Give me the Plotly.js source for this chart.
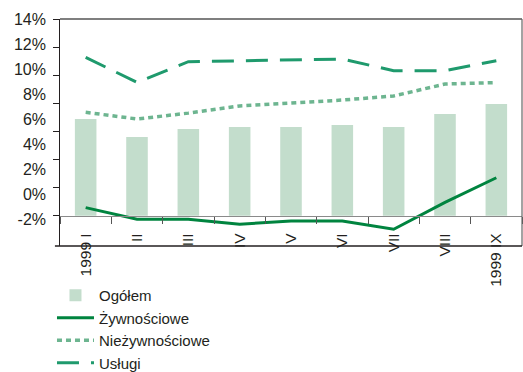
<!DOCTYPE html>
<html>
<head>
<meta charset="utf-8">
<script src="https://cdn.plot.ly/plotly-3.0.1.min.js"></script>
<style>html,body{margin:0;padding:0;background:#fff;}#chart{width:523px;height:372px;}</style>
</head>
<body>
<div id="chart"></div>
<script>
// Data
var categories = ["1999 I", "II", "III", "IV", "V", "VI", "VII", "VIII", "1999 IX"];
var ogolem = [6.88, 5.6, 6.17, 6.31, 6.31, 6.46, 6.31, 7.24, 7.95];
var zywnosciowe = [0.57, -0.26, -0.26, -0.61, -0.38, -0.38, -0.97, 0.95, 2.7];
var niezywnosciowe = [7.36, 6.88, 7.3, 7.81, 8.02, 8.23, 8.52, 9.37, 9.47];
var uslugi = [11.27, 9.49, 10.96, 11.01, 11.05, 11.15, 10.32, 10.32, 11.03];
var seriesNames = ["Ogółem", "Żywnościowe", "Nieżywnościowe", "Usługi"];
var yTickVals = [0, 2, 4, 6, 8, 10, 12, 14];
var yLabelVals = [-2, 0, 2, 4, 6, 8, 10, 12, 14];
var yLabelText = ["-2%", "0%", "2%", "4%", "6%", "8%", "10%", "12%", "14%"];

var yRange = [-2.16, 14.0];
var y2Range = [-4.13, 14.001];
var font = "Liberation Sans, Arial, sans-serif";

var traces = [
  {type: "bar", x: categories, y: ogolem, name: seriesNames[0],
   marker: {color: "#c3ddcc"}, width: 0.42, hoverinfo: "skip"},
  {type: "scatter", mode: "lines", x: categories, y: zywnosciowe, name: seriesNames[1],
   line: {color: "#00843f", width: 3}},
  {type: "scatter", mode: "lines", x: categories, y: niezywnosciowe, name: seriesNames[2],
   line: {color: "#6db590", width: 3.5, dash: "5px,4px"}},
  {type: "scatter", mode: "lines", x: categories, y: uslugi, name: seriesNames[3],
   line: {color: "#1f9a6d", width: 3, dash: "22px,12px"}},
  {type: "scatter", mode: "none", x: categories, y: yLabelVals, yaxis: "y2", showlegend: false, hoverinfo: "skip"}
];

var layout = {
  width: 523, height: 372,
  margin: {l: 60, r: 1, t: 19, b: 126, pad: 0, autoexpand: false},
  paper_bgcolor: "#fff", plot_bgcolor: "rgba(0,0,0,0)",
  font: {family: font, size: 15, color: "#231f20"},
  showlegend: true,
  xaxis: {
    type: "category", range: [-0.5, 8.5], fixedrange: true,
    anchor: "free", position: (0 - yRange[0]) / (yRange[1] - yRange[0]),
    showline: true, linecolor: "#8a8a8a", linewidth: 1.5,
    ticks: "outside", tickson: "boundaries", ticklen: 7, tickcolor: "#555", tickwidth: 1,
    tickangle: -90, tickfont: {family: font, size: 15.5, color: "#231f20"},
    showgrid: false, zeroline: false, ticklabelstandoff: 10, automargin: false
  },
  yaxis: {
    range: yRange, fixedrange: true,
    tickmode: "array", tickvals: yTickVals, showticklabels: false,
    ticks: "outside", ticklen: 6, tickcolor: "#231f20", tickwidth: 1,
    showline: true, linecolor: "#231f20", linewidth: 1.5,
    showgrid: false, zeroline: false, automargin: false
  },
  yaxis2: {
    overlaying: "y", side: "left", range: y2Range, fixedrange: true,
    tickmode: "array", tickvals: yLabelVals, ticktext: yLabelText,
    ticks: "", showline: false, showgrid: false, zeroline: false,
    tickfont: {family: font, size: 16, color: "#231f20"},
    ticklabelstandoff: 13, automargin: false
  },
  shapes: [
    {type: "line", xref: "paper", yref: "paper", x0: 0, x1: 1, y0: 1, y1: 1, line: {color: "#555", width: 1.5}},
    {type: "line", xref: "paper", yref: "paper", x0: 1, x1: 1, y0: 0, y1: 1, line: {color: "#666", width: 1.2}},
    {type: "line", xref: "paper", yref: "paper", x0: -0.011, x1: 1, y0: 0, y1: 0, line: {color: "#231f20", width: 1.5}}
  ],
  legend: {
    xref: "container", yref: "container",
    x: 0.0994, y: 0.25, xanchor: "left", yanchor: "top",
    orientation: "v", traceorder: "normal", tracegroupgap: 0,
    font: {family: font, size: 15, color: "#231f20"},
    bgcolor: "rgba(0,0,0,0)", itemwidth: 37
  }
};

Plotly.newPlot("chart", traces, layout, {displayModeBar: false, staticPlot: true});
</script>
</body>
</html>
